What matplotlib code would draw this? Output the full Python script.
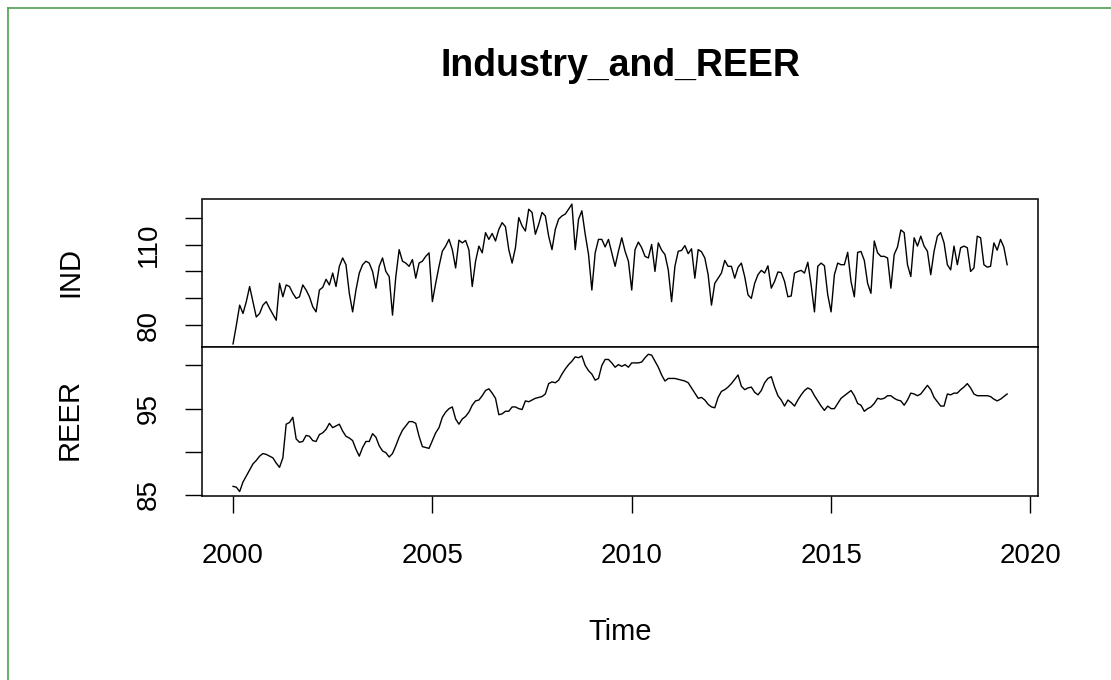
import numpy as np
import matplotlib
matplotlib.use("Agg")
from matplotlib import pyplot as plt
from matplotlib.lines import Line2D

plt.rcParams["font.family"] = ["Liberation Sans", "DejaVu Sans"]

# ──────────────────────────────────────────────
# Data (monthly, Jan 2000 - Jun 2019)
# ──────────────────────────────────────────────
START_YEAR = 2000

ind_values = [
    73.1, 80.0, 87.5, 84.4, 88.8, 94.4, 88.8, 83.1, 84.4, 87.5, 88.8, 86.3,
    84.1, 81.9, 95.6, 90.6, 95.0, 94.4, 91.9, 90.0, 90.6, 95.0, 93.1, 90.6,
    86.9, 85.0, 93.1, 94.1, 97.1, 95.0, 99.4, 94.4, 101.9, 105.0, 102.5, 91.9,
    85.0, 93.1, 99.4, 102.5, 103.8, 103.1, 100.0, 93.8, 101.9, 105.0, 100.0, 98.1,
    83.8, 98.1, 108.1, 103.8, 103.1, 101.9, 104.4, 97.5, 103.1, 103.8, 105.6, 106.9,
    88.8, 95.6, 101.9, 107.5, 109.4, 111.9, 108.1, 101.3, 111.6, 110.6, 111.5, 108.0,
    94.4, 103.8, 109.4, 106.9, 114.4, 111.9, 114.1, 111.3, 115.6, 118.1, 116.6, 108.1,
    103.1, 108.8, 120.0, 116.9, 115.0, 123.1, 121.9, 113.8, 117.5, 121.9, 120.6, 113.1,
    108.1, 115.6, 119.4, 120.6, 121.3, 123.1, 125.0, 108.1, 119.4, 122.5, 113.8, 106.3,
    93.1, 106.9, 111.9, 111.9, 109.1, 111.9, 106.9, 101.9, 107.5, 112.5, 107.5, 103.8,
    93.1, 108.1, 110.9, 108.8, 105.6, 105.0, 110.0, 100.0, 110.6, 107.9, 106.3, 100.6,
    88.8, 101.9, 107.5, 107.8, 109.6, 106.6, 108.4, 97.5, 108.1, 107.3, 105.0, 98.8,
    87.5, 95.6, 97.5, 99.4, 104.1, 101.9, 101.9, 97.5, 101.5, 103.1, 98.1, 91.3,
    90.0, 95.6, 98.8, 100.4, 99.4, 102.1, 93.8, 96.3, 99.8, 99.6, 96.3, 90.6,
    90.9, 99.4, 100.0, 100.4, 99.4, 103.4, 95.0, 85.0, 101.9, 103.1, 102.1, 91.3,
    85.0, 98.8, 103.1, 102.5, 102.5, 107.1, 96.3, 90.6, 107.1, 107.4, 104.1, 95.6,
    91.9, 111.3, 106.9, 105.6, 105.6, 105.0, 93.8, 106.3, 109.1, 115.4, 114.4, 102.5,
    98.1, 112.5, 109.4, 113.1, 109.4, 107.5, 98.8, 107.5, 113.1, 114.4, 110.6, 102.5,
    100.6, 109.4, 102.5, 108.8, 109.4, 108.8, 100.0, 101.3, 113.1, 112.5, 102.5, 101.6,
    101.9, 110.6, 107.9, 111.9, 109.0, 102.5,
]

reer_values = [
    86.0, 85.9, 85.4, 86.5, 87.2, 87.9, 88.6, 89.0, 89.5, 89.8, 89.7, 89.5,
    89.3, 88.7, 88.2, 89.3, 93.2, 93.4, 94.0, 91.5, 91.1, 91.2, 91.9, 91.8,
    91.3, 91.2, 92.0, 92.2, 92.6, 93.3, 92.8, 93.0, 93.2, 92.4, 91.8, 91.6,
    91.3, 90.3, 89.5, 90.5, 91.2, 91.2, 92.1, 91.7, 90.7, 90.1, 89.9, 89.4,
    89.8, 90.7, 91.7, 92.5, 93.0, 93.5, 93.5, 93.3, 91.8, 90.6, 90.5, 90.4,
    91.3, 92.2, 92.8, 94.0, 94.6, 95.0, 95.2, 93.8, 93.2, 93.8, 94.1, 94.6,
    95.4, 95.9, 96.0, 96.5, 97.1, 97.3, 96.8, 96.2, 94.3, 94.4, 94.7, 94.7,
    95.2, 95.2, 95.0, 94.9, 95.9, 95.8, 96.0, 96.2, 96.3, 96.4, 96.7, 97.9,
    98.1, 98.0, 98.3, 99.0, 99.6, 100.1, 100.5, 101.0, 100.9, 101.1, 100.0, 99.4,
    99.0, 98.3, 98.5, 100.0, 100.7, 100.7, 100.3, 99.8, 100.1, 99.9, 100.1, 99.8,
    100.3, 100.3, 100.3, 100.4, 100.9, 101.3, 101.2, 100.5, 99.8, 98.9, 98.2, 98.5,
    98.5, 98.5, 98.4, 98.3, 98.2, 98.0, 97.4, 96.8, 96.2, 96.3, 96.0, 95.5,
    95.2, 95.1, 96.3, 97.0, 97.2, 97.5, 97.9, 98.4, 98.9, 97.6, 97.2, 97.4,
    97.5, 96.9, 96.6, 97.1, 98.0, 98.5, 98.7, 97.5, 96.5, 96.0, 95.3, 96.0,
    95.7, 95.3, 96.0, 96.6, 97.1, 97.4, 97.2, 96.5, 95.9, 95.3, 94.8, 95.3,
    95.0, 95.0, 95.6, 96.2, 96.5, 96.8, 97.1, 96.5, 95.6, 95.4, 94.7, 95.0,
    95.2, 95.6, 96.2, 96.1, 96.2, 96.5, 96.5, 96.2, 96.0, 95.9, 95.4, 96.0,
    96.8, 96.7, 96.5, 96.7, 97.2, 97.7, 97.2, 96.3, 95.8, 95.3, 95.3, 96.7,
    96.6, 96.8, 96.8, 97.2, 97.5, 97.9, 97.4, 96.7, 96.5, 96.5, 96.5, 96.5,
    96.4, 96.1, 95.9, 96.1, 96.4, 96.7,
]

x_ticks = [2000, 2005, 2010, 2015, 2020]
ind_ticks = [80, 90, 100, 110, 120]
ind_tick_labels = ["80", "", "", "110", ""]
reer_ticks = [85, 90, 95, 100]
reer_tick_labels = ["85", "", "95", ""]

# ──────────────────────────────────────────────
# Layout (pixel geometry of the 1111x680 figure)
# ──────────────────────────────────────────────
W, H = 1111, 680
LEFT, RIGHT = 202, 1038
TOP, MID, BOTTOM = 199.5, 346.5, 495.5


def _rect(y_top, y_bot):
    return [LEFT / W, 1 - y_bot / H, (RIGHT - LEFT) / W, (y_bot - y_top) / H]


def _style(ax):
    for sp in ax.spines.values():
        sp.set_linewidth(1.1)
        sp.set_color("black")
    ax.tick_params(axis="y", length=12, width=1.0, pad=17, labelsize=20,
                   labelrotation=90)
    for lab in ax.get_yticklabels():
        lab.set_verticalalignment("center")


t = START_YEAR + np.arange(len(ind_values)) / 12.0
xlim = (1999.222, 2020.19)

fig = plt.figure(figsize=(W / 100, H / 100), dpi=100)

ax1 = fig.add_axes(_rect(TOP, MID))
ax1.plot(t, ind_values, color="black", lw=1.0)
ax1.set_xlim(*xlim)
ax1.set_ylim(72.15, 126.7)
ax1.set_xticks([])
ax1.set_yticks(ind_ticks)
ax1.set_yticklabels(ind_tick_labels)
_style(ax1)

ax2 = fig.add_axes(_rect(MID, BOTTOM))
ax2.plot(t, reer_values, color="black", lw=1.0)
ax2.set_xlim(*xlim)
ax2.set_ylim(84.94, 102.2)
ax2.set_yticks(reer_ticks)
ax2.set_yticklabels(reer_tick_labels)
ax2.set_xticks(x_ticks)
ax2.set_xticklabels([str(v) for v in x_ticks])
ax2.tick_params(axis="x", length=12, width=1.0, pad=22, labelsize=20)
_style(ax2)

cx = (LEFT + RIGHT) / 2 / W
fig.text(cx, 1 - 66 / H, "Industry_and_REER", ha="center", va="center",
         fontsize=27, fontweight="bold")
fig.text(cx, 1 - 632 / H, "Time", ha="center", va="center", fontsize=21)
fig.text(70 / W, 1 - 272 / H, "IND", ha="center", va="center",
         fontsize=21, rotation=90)
fig.text(70 / W, 1 - 420 / H, "REER", ha="center", va="center",
         fontsize=21, rotation=90)

# thin green frame on the left and top edges
fig.add_artist(Line2D([7.5 / W, 7.5 / W], [0, 1 - 7.5 / H], transform=fig.transFigure,
                      color="#4f9f4f", lw=1.2))
fig.add_artist(Line2D([7.5 / W, 1], [1 - 7.5 / H, 1 - 7.5 / H], transform=fig.transFigure,
                      color="#4f9f4f", lw=1.2))

fig.savefig("out.png", dpi=100)
